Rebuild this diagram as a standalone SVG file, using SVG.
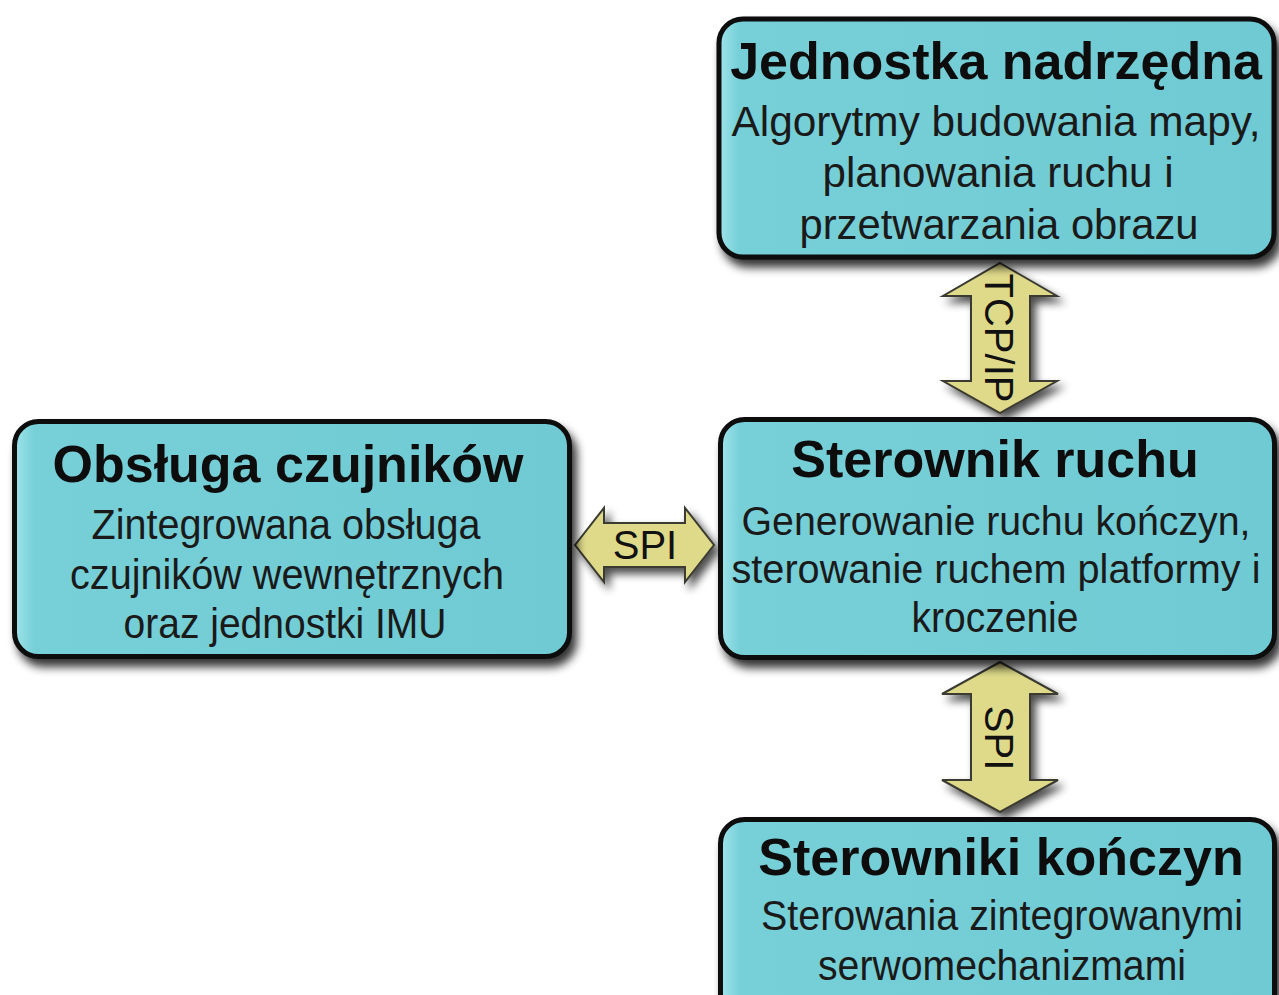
<svg xmlns="http://www.w3.org/2000/svg" width="1279" height="995" viewBox="0 0 1279 995">
<defs>
<linearGradient id="boxFill" x1="0" y1="0" x2="1" y2="0">
<stop offset="0" stop-color="#9FE4EB"/>
<stop offset="0.035" stop-color="#77D0D8"/>
<stop offset="1" stop-color="#6FCAD3"/>
</linearGradient>
<filter id="shadow" x="-10%" y="-10%" width="125%" height="130%">
<feGaussianBlur in="SourceAlpha" stdDeviation="5"/>
<feOffset dx="5" dy="8" result="b"/>
<feComponentTransfer><feFuncA type="linear" slope="0.8"/></feComponentTransfer>
<feMerge><feMergeNode/><feMergeNode in="SourceGraphic"/></feMerge>
</filter>
<filter id="ashadow" x="-30%" y="-30%" width="170%" height="170%">
<feGaussianBlur in="SourceAlpha" stdDeviation="4"/>
<feOffset dx="5" dy="6" result="b"/>
<feComponentTransfer><feFuncA type="linear" slope="0.7"/></feComponentTransfer>
<feMerge><feMergeNode/><feMergeNode in="SourceGraphic"/></feMerge>
</filter>
</defs>
<style>
.box{fill:url(#boxFill);stroke:#0a0a0a;stroke-width:5;filter:url(#shadow)}
.title{font-family:"Liberation Sans",Arial,sans-serif;font-weight:bold;font-size:52px;fill:#0d0d0d;text-anchor:middle}
.body{font-family:"Liberation Sans",Arial,sans-serif;font-size:42px;fill:#1a1a1a;text-anchor:middle}
.body40{font-family:"Liberation Sans",Arial,sans-serif;font-size:40px;fill:#1a1a1a;text-anchor:middle}
.arrow{fill:#DEDA8A;stroke:#3a3a30;stroke-width:2;stroke-linejoin:miter;filter:url(#ashadow)}
.alabel{font-family:"Liberation Sans",Arial,sans-serif;font-size:40px;fill:#111;text-anchor:middle}
</style>
<rect width="1279" height="995" fill="#ffffff"/>
<g id="connectors">
<g id="tcpip">
<polygon class="arrow" points="1000,263 1057,296 1030,296 1030,381 1057,381 1000,413 943,381 971,381 971,296 943,296"/>
<text class="alabel" transform="translate(985,338) rotate(90)">TCP/IP</text>
</g>
<g id="spi-left">
<polygon class="arrow" points="575,545 604,508 604,523 685,523 685,508 714,545 685,582 685,567 604,567 604,582"/>
<text class="alabel" x="645" y="559">SPI</text>
</g>
<g id="spi-bottom">
<polygon class="arrow" points="1000,662 1058,694 1030,694 1030,780 1058,780 1000,812 942,780 971,780 971,694 942,694"/>
<text class="alabel" transform="translate(985,738) rotate(90)">SPI</text>
</g>
</g>
<g id="jednostka">
<rect class="box" x="719" y="19" width="555" height="238" rx="24"/>
<text class="title" x="996" y="79">Jednostka nadrzędna</text>
<text class="body" x="996" y="136" textLength="529" lengthAdjust="spacingAndGlyphs">Algorytmy budowania mapy,</text>
<text class="body" x="998" y="187" textLength="351" lengthAdjust="spacingAndGlyphs">planowania ruchu i</text>
<text class="body" x="999" y="239" textLength="399" lengthAdjust="spacingAndGlyphs">przetwarzania obrazu</text>
</g>
<g id="czujniki">
<rect class="box" x="14.5" y="421.5" width="555" height="235" rx="24"/>
<text class="title" x="288" y="482">Obsługa czujników</text>
<text class="body" x="286" y="539" textLength="389" lengthAdjust="spacingAndGlyphs">Zintegrowana obsługa</text>
<text class="body" x="287" y="589" textLength="434" lengthAdjust="spacingAndGlyphs">czujników wewnętrznych</text>
<text class="body" x="285" y="638" textLength="323" lengthAdjust="spacingAndGlyphs">oraz jednostki IMU</text>
</g>
<g id="sterownik">
<rect class="box" x="720.5" y="419.5" width="554" height="238" rx="24"/>
<text class="title" x="995" y="477">Sterownik ruchu</text>
<text class="body40" x="996" y="535" textLength="509" lengthAdjust="spacingAndGlyphs">Generowanie ruchu kończyn,</text>
<text class="body40" x="996" y="583" textLength="529" lengthAdjust="spacingAndGlyphs">sterowanie ruchem platformy i</text>
<text class="body" x="995" y="632" textLength="167" lengthAdjust="spacingAndGlyphs">kroczenie</text>
</g>
<g id="konczyny">
<rect class="box" x="720.5" y="819.5" width="554" height="210" rx="24"/>
<text class="title" x="1001" y="875">Sterowniki kończyn</text>
<text class="body" x="1002" y="930" textLength="482" lengthAdjust="spacingAndGlyphs">Sterowania zintegrowanymi</text>
<text class="body" x="1002" y="980" textLength="368" lengthAdjust="spacingAndGlyphs">serwomechanizmami</text>
</g>
</svg>
